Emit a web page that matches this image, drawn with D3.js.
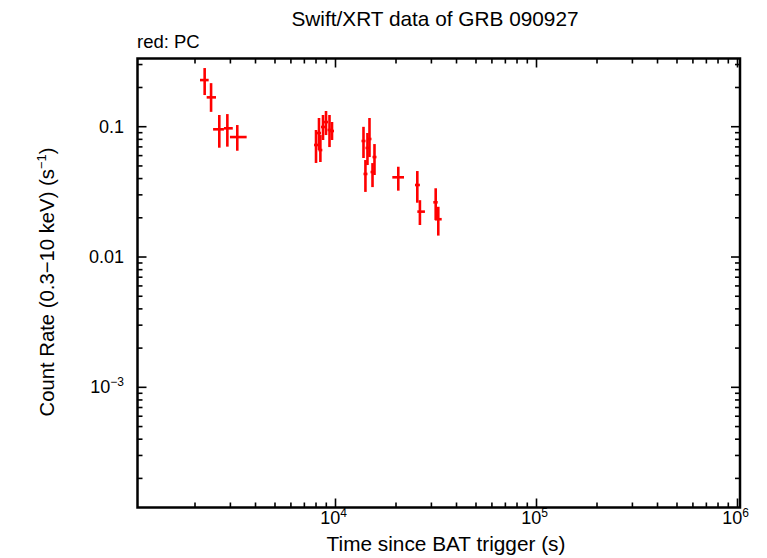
<!DOCTYPE html>
<html>
<head>
<meta charset="utf-8">
<script src="https://cdn.jsdelivr.net/npm/d3@7"></script>
<style>
  body { margin: 0; background: #fff; }
  svg { display: block; font-family: "Liberation Sans", Arial, sans-serif; }
</style>
</head>
<body>
<div id="chart"></div>
<script>
// Swift/XRT PC-mode light curve
const time   = [2234, 2404, 2642, 2897, 3246,
                8000, 8277, 8410, 8667, 8970, 9336, 9607,
                13780, 14090, 14420, 14760, 15280, 15630,
                20530, 25530, 26300, 31510, 32460];
const timeLo = [2118, 2286, 2460, 2786, 2985,
                7820, 8090, 8220, 8470, 8770, 9130, 9390,
                13470, 13780, 14100, 14430, 14940, 15280,
                19170, 24860, 25530, 30660, 31260];
const timeHi = [2339, 2544, 2786, 3083, 3614,
                8190, 8470, 8600, 8870, 9180, 9550, 9830,
                14100, 14420, 14760, 15100, 15630, 15990,
                21920, 26300, 27860, 32250, 33760];
const rate   = [0.228, 0.168, 0.0955, 0.0972, 0.0833,
                0.0724, 0.0894, 0.0662, 0.0995, 0.1086, 0.0944, 0.0927,
                0.0777, 0.0434, 0.0687, 0.0805, 0.0449, 0.0585,
                0.0409, 0.0357, 0.0223, 0.0263, 0.0195];
const rateLo = [0.175, 0.130, 0.069, 0.0703, 0.0654,
                0.0527, 0.0663, 0.0536, 0.0791, 0.0863, 0.0698, 0.0791,
                0.0575, 0.0316, 0.0508, 0.0585, 0.0344, 0.0426,
                0.0323, 0.0261, 0.0176, 0.0192, 0.0146];
const rateHi = [0.282, 0.216, 0.123, 0.125, 0.103,
                0.0944, 0.1167, 0.0863, 0.123, 0.132, 0.123, 0.1087,
                0.0998, 0.0555, 0.0895, 0.1166, 0.0526, 0.0736,
                0.0493, 0.0457, 0.0273, 0.0337, 0.0243];

const xDomain = [1035, 1.029e6];
const yDomain = [1.196e-4, 0.3338];
const xMajor = [1e4, 1e5, 1e6];
const xMajorLabels = [["10", "4"], ["10", "5"], ["10", "6"]];
const yMajor = [0.1, 0.01, 0.001];
const yMajorLabels = [["0.1", ""], ["0.01", ""], ["10", "\u22123"]];

const W = 767, H = 558;
const plot = { left: 137.5, right: 740, top: 58.5, bottom: 507.5 };

const svg = d3.select('#chart').append('svg')
    .attr('width', W).attr('height', H);

const x = d3.scaleLog().domain(xDomain).range([plot.left, plot.right]);
const y = d3.scaleLog().domain(yDomain).range([plot.bottom, plot.top]);

// minor ticks = every integer multiple inside each decade
const logTicks = (scale) => {
    const [a, b] = scale.domain();
    const out = [];
    for (let e = Math.floor(Math.log10(a)); e <= Math.ceil(Math.log10(b)); e++) {
        for (let m = 1; m < 10; m++) {
            const v = m * Math.pow(10, e);
            if (v >= a && v <= b) out.push({ v, major: m === 1 });
        }
    }
    return out;
};
const majLen = 9, minLen = 5;
const tickG = svg.append('g').attr('stroke', '#000').attr('stroke-width', 1.6);

logTicks(x).forEach(t => {
    const len = t.major ? majLen : minLen;
    const px = x(t.v);
    tickG.append('line').attr('x1', px).attr('x2', px)
        .attr('y1', plot.bottom).attr('y2', plot.bottom - len);
    tickG.append('line').attr('x1', px).attr('x2', px)
        .attr('y1', plot.top).attr('y2', plot.top + len);
});
logTicks(y).forEach(t => {
    const len = t.major ? majLen : minLen;
    const py = y(t.v);
    tickG.append('line').attr('y1', py).attr('y2', py)
        .attr('x1', plot.left).attr('x2', plot.left + len);
    tickG.append('line').attr('y1', py).attr('y2', py)
        .attr('x1', plot.right).attr('x2', plot.right - len);
});

// frame
svg.append('rect')
    .attr('x', plot.left).attr('y', plot.top)
    .attr('width', plot.right - plot.left).attr('height', plot.bottom - plot.top)
    .attr('fill', 'none').attr('stroke', '#000').attr('stroke-width', 2.5);

// tick labels
xMajor.forEach((v, i) => {
    const t = svg.append('text')
        .attr('x', x(v) - 2).attr('y', 524)
        .attr('text-anchor', 'middle')
        .attr('font-size', 18);
    t.append('tspan').text(xMajorLabels[i][0]);
    t.append('tspan').attr('font-size', 12).attr('dy', -7).text(xMajorLabels[i][1]);
});
yMajor.forEach((v, i) => {
    const t = svg.append('text')
        .attr('x', 124).attr('y', y(v) + 6)
        .attr('text-anchor', 'end')
        .attr('font-size', 18);
    t.append('tspan').text(yMajorLabels[i][0]);
    if (yMajorLabels[i][1]) {
        t.append('tspan').attr('font-size', 12).attr('dy', -7).text(yMajorLabels[i][1]);
    }
});

// titles
svg.append('text')
    .attr('x', 435).attr('y', 26)
    .attr('text-anchor', 'middle').attr('font-size', 20.8)
    .text('Swift/XRT data of GRB 090927');
svg.append('text')
    .attr('x', 137).attr('y', 48)
    .attr('font-size', 18.5)
    .text('red: PC');
svg.append('text')
    .attr('x', 446).attr('y', 551)
    .attr('text-anchor', 'middle').attr('font-size', 20.8)
    .text('Time since BAT trigger (s)');

const yl = svg.append('text')
    .attr('transform', 'translate(54,282) rotate(-90)')
    .attr('text-anchor', 'middle').attr('font-size', 20.3);
yl.append('tspan').text('Count Rate (0.3\u221210 keV) (s');
yl.append('tspan').attr('font-size', 13).attr('dy', -8).text('\u22121');
yl.append('tspan').attr('dy', 8).text(')');

// error bars
const pts = time.map((t, i) => ({
    t, tLo: timeLo[i], tHi: timeHi[i], r: rate[i], rLo: rateLo[i], rHi: rateHi[i]
}));
const dataG = svg.append('g').attr('stroke', '#ff0000').attr('stroke-width', 2.6);
dataG.selectAll('.xerr').data(pts).enter().append('line')
    .attr('class', 'xerr')
    .attr('x1', d => x(d.tLo)).attr('x2', d => x(d.tHi))
    .attr('y1', d => y(d.r)).attr('y2', d => y(d.r));
dataG.selectAll('.yerr').data(pts).enter().append('line')
    .attr('class', 'yerr')
    .attr('x1', d => x(d.t)).attr('x2', d => x(d.t))
    .attr('y1', d => y(d.rLo)).attr('y2', d => y(d.rHi));
</script>
</body>
</html>
